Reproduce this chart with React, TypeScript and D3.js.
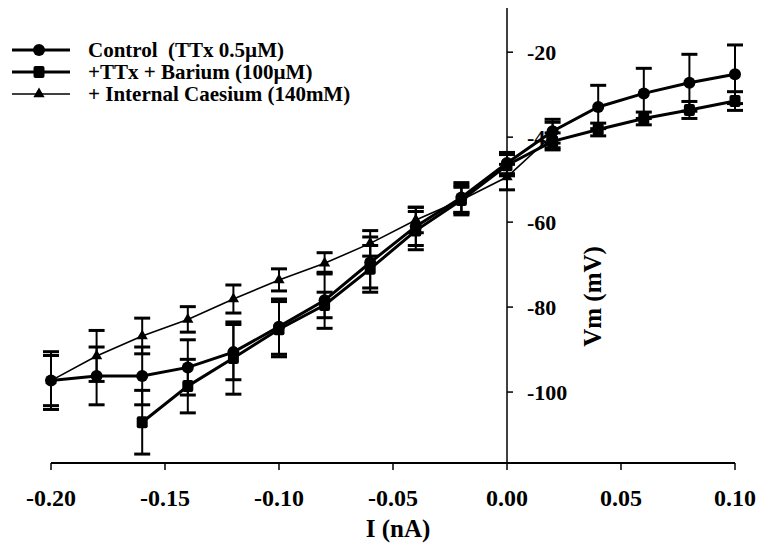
import React from 'react';
import * as d3 from 'd3';

// currents (nA) used for every series
const currents = [-0.2, -0.18, -0.16, -0.14, -0.12, -0.1, -0.08, -0.06, -0.04, -0.02, 0.0, 0.02, 0.04, 0.06, 0.08, 0.1];

const control = [-97.3, -96.2, -96.2, -94.2, -90.6, -84.6, -78.4, -69.5, -61, -54.2, -46.1, -38.6, -32.9, -29.7, -27.2, -25.2];
const controlErr = [5.9, 6.8, 6.8, 6.5, 6.5, 6.5, 6.6, 6, 4.5, 3.5, 2.5, 2.8, 5.1, 5.9, 6.7, 6.9];

const barium = [null, null, -107.1, -98.6, -92, -85.2, -79.5, -71, -62, -54.8, -46.6, -41, -38.2, -35.6, -33.6, -31.5];
const bariumErr = [null, null, 7.5, 6.3, 8.5, 6.5, 3, 5.5, 4.5, 3.5, 2.5, 2, 1.5, 1.5, 2, 2.2];

const caesium = [-97.3, -91.5, -86.8, -82.9, -78.1, -73.6, -69.7, -65, -59.5, -54.8, -49.4, -39.5, null, null, null, null];
const caesiumErr = [6.8, 6, 4.2, 3, 3.3, 2.6, 2.5, 3, 3, 3, 3, 3, null, null, null, null];

const xTicks = [-0.2, -0.15, -0.1, -0.05, 0.0, 0.05, 0.1];
const yTicks = [-20, -40, -60, -80, -100];

const legendLabels = ['Control  (TTx 0.5\u00b5M)', '+TTx + Barium (100\u00b5M)', '+ Internal Caesium (140mM)'];

const W = 762;
const H = 548;
const FONT = '"Liberation Serif", "Times New Roman", serif';

type Pt = { x: number; y: number; e: number };

const toPts = (vals: (number | null)[], errs: (number | null)[]): Pt[] =>
  vals
    .map((v, i) => (v == null ? null : { x: currents[i], y: v, e: errs[i] ?? 0 }))
    .filter((d): d is Pt => d !== null);

const App = () => {
  const x = d3.scaleLinear().domain([-0.2, 0.1]).range([51, 735]);
  const y = d3.scaleLinear().domain([-116.7, -9.6]).range([463, 8]);

  const series = [
    { name: 'control', pts: toPts(control, controlErr), width: 3, marker: 'circle' },
    { name: 'barium', pts: toPts(barium, bariumErr), width: 3, marker: 'square' },
    { name: 'caesium', pts: toPts(caesium, caesiumErr), width: 1.6, marker: 'triangle' },
  ];

  const line = d3
    .line<Pt>()
    .x((d) => x(d.x))
    .y((d) => y(d.y));

  const tri = d3.symbol().type(d3.symbolTriangle).size(55)() as string;

  const marker = (kind: string, cx: number, cy: number, key?: string) => {
    if (kind === 'circle') return <circle key={key} cx={cx} cy={cy} r={6} fill="#000" />;
    if (kind === 'square') return <rect key={key} x={cx - 5.5} y={cy - 6} width={11} height={12} rx={2} fill="#000" />;
    return <path key={key} d={tri} transform={`translate(${cx},${cy})`} fill="#000" />;
  };

  const x0 = x(0);
  const yBottom = y(-116.7);

  return (
    <svg width={W} height={H} style={{ position: 'absolute', left: 0, top: 0, background: '#fff' }}>
      {/* axes */}
      <line x1={x(-0.2)} x2={x(0.1)} y1={yBottom} y2={yBottom} stroke="#000" strokeWidth={2} />
      {xTicks.map((t) => (
        <g key={t}>
          <line x1={x(t)} x2={x(t)} y1={yBottom} y2={yBottom + 7} stroke="#000" strokeWidth={1.5} />
          <text x={x(t)} y={yBottom + 43} textAnchor="middle" fontFamily={FONT} fontWeight="bold" fontSize={24}>
            {t.toFixed(2)}
          </text>
        </g>
      ))}
      <text x={398} y={537} textAnchor="middle" fontFamily={FONT} fontWeight="bold" fontSize={25}>
        I (nA)
      </text>

      <line x1={x0} x2={x0} y1={y(-9.6)} y2={yBottom} stroke="#000" strokeWidth={1.5} />
      {yTicks.map((t) => (
        <g key={t}>
          <line x1={x0} x2={x0 + 6} y1={y(t)} y2={y(t)} stroke="#000" strokeWidth={1.5} />
          <text x={x0 + 20} y={y(t)} dy="0.35em" fontFamily={FONT} fontWeight="bold" fontSize={22}>
            {t}
          </text>
        </g>
      ))}
      <text
        transform={`translate(601,${y(-77.5)}) rotate(-90)`}
        textAnchor="middle"
        fontFamily={FONT}
        fontWeight="bold"
        fontSize={25}
      >
        Vm (mV)
      </text>

      {/* error bars */}
      {series.map((s) =>
        s.pts.map((d, i) => (
          <g key={`${s.name}-e${i}`} stroke="#000">
            <line x1={x(d.x)} x2={x(d.x)} y1={y(d.y - d.e)} y2={y(d.y + d.e)} strokeWidth={2} />
            <line x1={x(d.x) - 8} x2={x(d.x) + 8} y1={y(d.y - d.e)} y2={y(d.y - d.e)} strokeWidth={3} />
            <line x1={x(d.x) - 8} x2={x(d.x) + 8} y1={y(d.y + d.e)} y2={y(d.y + d.e)} strokeWidth={3} />
          </g>
        ))
      )}

      {/* lines + markers */}
      {series.map((s) => (
        <g key={s.name}>
          <path d={line(s.pts) ?? ''} fill="none" stroke="#000" strokeWidth={s.width} />
          {s.pts.map((d, i) => marker(s.marker, x(d.x), y(d.y), `${s.name}-m${i}`))}
        </g>
      ))}

      {/* legend */}
      {series.map((s, i) => {
        const ly = 50 + i * 22;
        return (
          <g key={`leg-${s.name}`}>
            <line x1={12} x2={70} y1={ly} y2={ly} stroke="#000" strokeWidth={s.width} />
            {marker(s.marker, 39, ly)}
            <text
              x={88}
              y={ly}
              dy="0.35em"
              fontFamily={FONT}
              fontWeight="bold"
              fontSize={21}
              style={{ whiteSpace: 'pre' }}
            >
              {legendLabels[i]}
            </text>
          </g>
        );
      })}
    </svg>
  );
};

export default App;
